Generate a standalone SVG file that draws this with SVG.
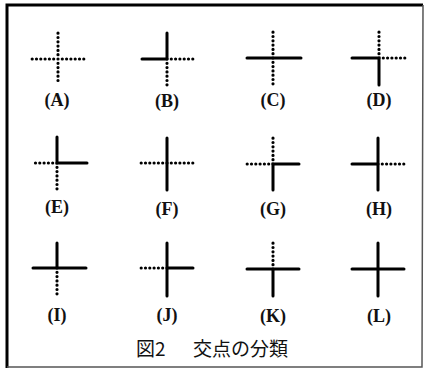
<svg xmlns="http://www.w3.org/2000/svg" width="427" height="374" viewBox="0 0 427 374">
<style>
.s{stroke:#000;stroke-width:3;stroke-linecap:round;fill:none}
.d{stroke:#000;stroke-width:3.2;stroke-linecap:round;stroke-dasharray:0 4.3;fill:none}
.lbl{font-family:"Liberation Serif",serif;font-size:18px;font-weight:bold;text-anchor:middle;fill:#111}
.cap{font-family:"Noto Sans CJK JP",sans-serif;font-size:19px;fill:#111}
</style>
<rect x="0" y="0" width="427" height="374" fill="#fff"/>
<g id="frame">
<path d="M7,368 L7,5 L423,5" stroke="#000" stroke-width="3" fill="none"/>
<path d="M423,5 L422,367 L7,367" stroke="#555" stroke-width="1.5" fill="none"/>
</g>
<g id="connectors">
<!-- A (58,59) -->
<path class="d" d="M58,59 V33 M58,59 V84 M58,59 H32 M58,59 H85"/>
<!-- B (167,59) -->
<path class="s" d="M167,59 V33 M167,59 H142"/>
<path class="d" d="M167,59 H194 M167,59 V85"/>
<!-- C (273,58) -->
<path class="s" d="M247,58 H301"/>
<path class="d" d="M273,58 V32 M273,58 V85"/>
<!-- D (379,58) -->
<path class="s" d="M352,58 H379 V85"/>
<path class="d" d="M379,58 V32 M379,58 H405"/>
<!-- E (57,163) -->
<path class="s" d="M57,137 V163 H87"/>
<path class="d" d="M57,163 H32 M57,163 V190"/>
<!-- F (167,163) -->
<path class="s" d="M167,138 V190"/>
<path class="d" d="M167,163 H141 M167,163 H194"/>
<!-- G (273,164) -->
<path class="s" d="M299,164 H273 V190"/>
<path class="d" d="M273,164 V138 M273,164 H247"/>
<!-- H (378,164) -->
<path class="s" d="M378,138 V190 M378,164 H352"/>
<path class="d" d="M378,164 H404"/>
<!-- I (57,268) -->
<path class="s" d="M57,243 V268 M33,268 H86"/>
<path class="d" d="M57,268 V296"/>
<!-- J (167,268) -->
<path class="s" d="M167,243 V296 M167,268 H193"/>
<path class="d" d="M167,268 H141"/>
<!-- K (273,269) -->
<path class="s" d="M247,269 H299 M273,269 V296"/>
<path class="d" d="M273,269 V242"/>
<!-- L (378,269) -->
<path class="s" d="M378,243 V296 M352,269 H404"/>
</g>
<g id="labels">
<text class="lbl" x="57" y="106">(A)</text>
<text class="lbl" x="167" y="107">(B)</text>
<text class="lbl" x="273" y="106">(C)</text>
<text class="lbl" x="379" y="106">(D)</text>
<text class="lbl" x="57" y="213">(E)</text>
<text class="lbl" x="167" y="215">(F)</text>
<text class="lbl" x="273" y="215">(G)</text>
<text class="lbl" x="379" y="215">(H)</text>
<text class="lbl" x="57" y="321">(I)</text>
<text class="lbl" x="167" y="321">(J)</text>
<text class="lbl" x="273" y="322">(K)</text>
<text class="lbl" x="379" y="322">(L)</text>
</g>
<g id="caption">
<text class="cap" y="356"><tspan x="136">図2</tspan><tspan x="193">交点の分類</tspan></text>
</g>
</svg>
